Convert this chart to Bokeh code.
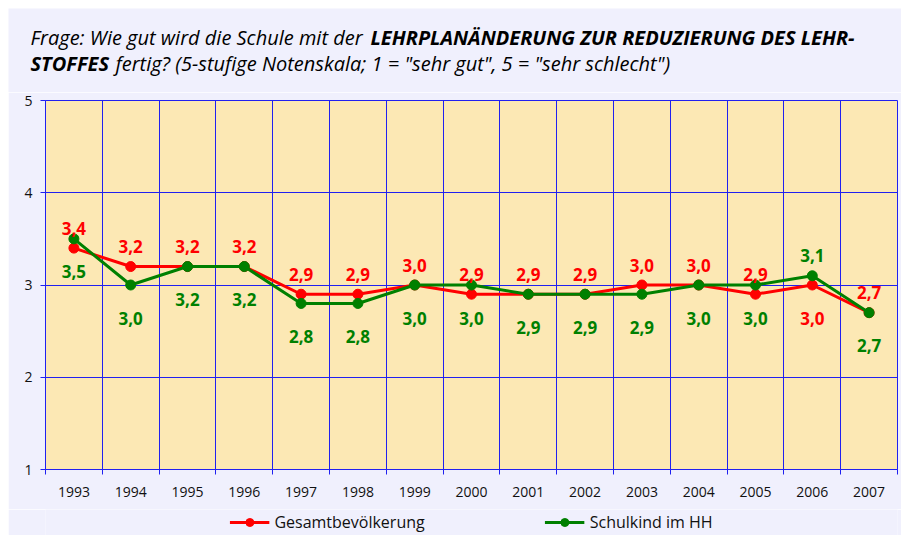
from bokeh.plotting import figure
from bokeh.layouts import column, row
from bokeh.models import Range1d, FixedTicker, Label, Legend, LegendItem, ColumnDataSource
from bokeh.core.properties import value
from bokeh.embed import file_html
from bokeh.resources import INLINE

# ---- data ----
years = list(range(1993, 2008))
gesamt = [3.4, 3.2, 3.2, 3.2, 2.9, 2.9, 3.0, 2.9, 2.9, 2.9, 3.0, 3.0, 2.9, 3.0, 2.7]
schulkind = [3.5, 3.0, 3.2, 3.2, 2.8, 2.8, 3.0, 3.0, 2.9, 2.9, 2.9, 3.0, 3.0, 3.1, 2.7]
y_ticks = [1, 2, 3, 4, 5]
series_names = ["Gesamtbevölkerung", "Schulkind im HH"]
swap_label_years = [2006]
title_line1_a = "Frage: Wie gut wird die Schule mit der"
title_line1_b = "LEHRPLANÄNDERUNG ZUR REDUZIERUNG DES LEHR-"
title_line2_a = "STOFFES"
title_line2_b = 'fertig? (5-stufige Notenskala; 1 = "sehr gut", 5 = "sehr schlecht")'

# ---- style ----
FONT = "Open Sans"
RED = "#FF0000"
GREEN = "#008000"
BLUE = "#2020F0"
BG_OUT = "#F0F0FD"
BG_IN = "#FCE8B4"
ABOVE = -20
BELOW = 33
NAN = float("nan")


def strip(height):
    f = figure(width=893, height=height, output_backend="svg", toolbar_location=None,
               x_range=Range1d(0, 1), y_range=Range1d(0, 1),
               x_axis_location=None, y_axis_location=None,
               min_border=0, min_border_left=0, min_border_right=0,
               min_border_top=0, min_border_bottom=0)
    f.grid.visible = False
    f.outline_line_color = None
    f.background_fill_color = BG_OUT
    f.border_fill_color = BG_OUT
    return f


# ---- title strip ----
t = strip(84)
for txt, x, y, style in ((title_line1_a, 22, 55, "italic"),
                         (title_line1_b, 362, 55, "bold italic"),
                         (title_line2_a, 22, 29, "bold italic"),
                         (title_line2_b, 107, 29, "italic")):
    t.add_layout(Label(x=x, y=y, x_units="screen", y_units="screen", text=txt,
                       text_font=FONT, text_font_size="20px", text_font_style=style,
                       text_color="#000000", text_baseline="alphabetic"))

# ---- main chart ----
p = figure(frame_width=852, frame_height=369, output_backend="svg", toolbar_location=None,
           x_range=Range1d(years[0] - 0.5, years[-1] + 0.5), y_range=Range1d(1, 5),
           min_border_left=37, min_border_right=4, min_border_top=8, min_border_bottom=40)
p.background_fill_color = BG_IN
p.border_fill_color = BG_OUT
p.outline_line_color = BLUE
p.outline_line_width = 1

bounds = [y - 0.5 for y in years] + [years[-1] + 0.5]

# x axis
p.xaxis.axis_label = None
p.xaxis.ticker = FixedTicker(ticks=years, minor_ticks=bounds)
p.xaxis.major_label_overrides = {y: str(y) for y in years}
p.xaxis.major_tick_out = 0
p.xaxis.major_tick_in = 0
p.xaxis.minor_tick_out = 5
p.xaxis.minor_tick_in = 0
p.xaxis.minor_tick_line_color = BLUE
p.xaxis.axis_line_color = BLUE
p.xaxis.major_label_standoff = 12
p.xaxis.major_label_text_font = FONT
p.xaxis.major_label_text_font_size = "14px"
p.xaxis.major_label_text_color = "#111111"

# y axis
p.yaxis.axis_label = None
p.yaxis.ticker = FixedTicker(ticks=y_ticks)
p.yaxis.major_label_overrides = {tk: str(tk) for tk in y_ticks}
p.yaxis.minor_tick_line_color = None
p.yaxis.major_tick_out = 5
p.yaxis.major_tick_in = 0
p.yaxis.major_tick_line_color = BLUE
p.yaxis.axis_line_color = BLUE
p.yaxis.major_label_standoff = 8
p.yaxis.major_label_text_font = FONT
p.yaxis.major_label_text_font_size = "14px"
p.yaxis.major_label_text_color = "#111111"

# grid
p.xgrid.ticker = FixedTicker(ticks=bounds)
p.xgrid.grid_line_color = BLUE
p.ygrid.ticker = FixedTicker(ticks=y_ticks)
p.ygrid.grid_line_color = BLUE

# series
line_kw = dict(line_width=3)
dot_kw = dict(size=10)
p.line(years, gesamt, line_color=RED, **line_kw)
p.scatter(years, gesamt, fill_color=RED, line_color=RED, **dot_kw)
p.line(years, schulkind, line_color=GREEN, **line_kw)
p.scatter(years, schulkind, fill_color=GREEN, line_color=GREEN, **dot_kw)


def fmt(v):
    return f"{v:.1f}".replace(".", ",")


red_src = ColumnDataSource(dict(
    x=years, y=gesamt, t=[fmt(v) for v in gesamt],
    off=[BELOW if yr in swap_label_years else ABOVE for yr in years]))
green_src = ColumnDataSource(dict(
    x=years, y=schulkind, t=[fmt(v) for v in schulkind],
    off=[ABOVE if yr in swap_label_years else BELOW for yr in years]))
for src, col in ((red_src, RED), (green_src, GREEN)):
    p.text(x="x", y="y", text="t", y_offset="off", source=src,
           text_color=col, text_font=value(FONT), text_font_size="17px",
           text_font_style="bold", text_align="center", text_baseline="alphabetic")

# ---- legend strip (legend proxies carry no visible data) ----
b = strip(26)
b.min_border_left = 37
b.min_border_right = 4
items = []
for name, col in zip(series_names, (RED, GREEN)):
    lr = b.line(x=[NAN], y=[NAN], line_color=col, **line_kw)
    sr = b.scatter(x=[NAN], y=[NAN], fill_color=col, line_color=col, **dot_kw)
    items.append(LegendItem(label=name, renderers=[lr, sr]))
legend = Legend(items=items, orientation="horizontal", location="center",
                glyph_width=40, glyph_height=20, label_height=18, spacing=120,
                label_text_font=FONT, label_text_font_size="16px",
                label_text_color="#111111",
                background_fill_alpha=0, border_line_alpha=0,
                padding=0, margin=0)
b.add_layout(legend, "center")

layout = column(row(t), row(p), row(b), spacing=0, margin=(8, 0, 0, 8))
open("out.html", "w").write(file_html(layout, INLINE))
